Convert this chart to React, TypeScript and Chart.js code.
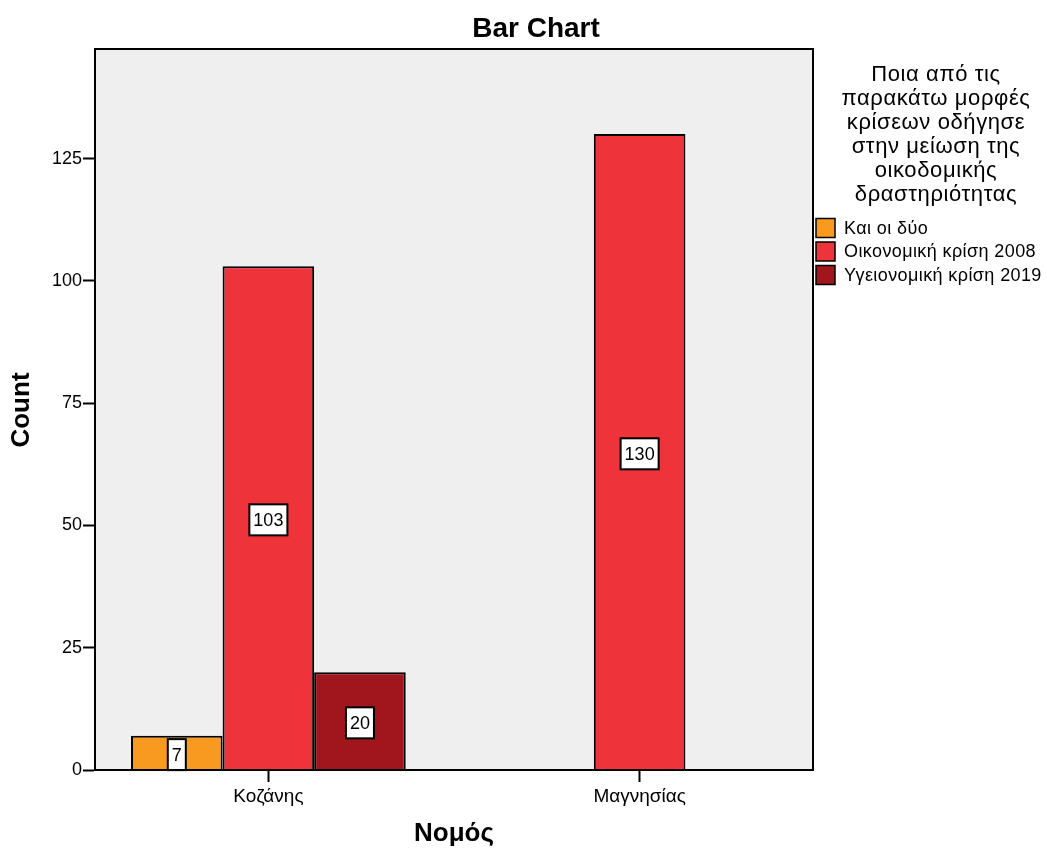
import React, { useEffect, useRef } from "react";
import { Chart, registerables } from "chart.js";

Chart.register(...registerables);

const categories = ["Κοζάνης", "Μαγνησίας"];
const seriesNames = ["Και οι δύο", "Οικονομική κρίση 2008", "Υγειονομική κρίση 2019"];
const bothValues: (number | null)[] = [7, null];
const crisis2008Values: (number | null)[] = [103, 130];
const health2019Values: (number | null)[] = [20, null];
const seriesColors = ["#F89A1F", "#EF333A", "#A1161C"];
const yTicks = [0, 25, 50, 75, 100, 125];
const legendTitle = ["Ποια από τις", "παρακάτω μορφές", "κρίσεων οδήγησε", "στην μείωση της", "οικοδομικής", "δραστηριότητας"];
const chartTitle = "Bar Chart";
const xTitle = "Νομός";
const yTitle = "Count";

const FONT = '"Liberation Sans", Arial, sans-serif';

export default function App() {
  const ref = useRef<HTMLCanvasElement | null>(null);

  useEffect(() => {
    if (!ref.current) return;
    const allSeries = [bothValues, crisis2008Values, health2019Values];

    const datasets = allSeries.map((vals, si) => ({
      label: seriesNames[si],
      data: categories.map((_, i) => ({ x: i, y: vals[i] })),
      backgroundColor: seriesColors[si],
      borderColor: "#000000",
      borderWidth: 2,
      barPercentage: 1,
      categoryPercentage: 0.74,
    }));

    const bgPlugin = {
      id: "bg",
      beforeDraw(chart: any) {
        const { ctx, chartArea: a } = chart;
        ctx.save();
        ctx.fillStyle = "#EFEFEF";
        ctx.fillRect(a.left, a.top, a.right - a.left, a.bottom - a.top);
        ctx.restore();
      },
      afterDraw(chart: any) {
        const { ctx, chartArea: a } = chart;
        ctx.save();
        // plot frame
        ctx.strokeStyle = "#000";
        ctx.lineWidth = 2;
        ctx.strokeRect(a.left, a.top, a.right - a.left, a.bottom - a.top);

        // title
        ctx.fillStyle = "#000";
        ctx.textAlign = "center";
        ctx.textBaseline = "middle";
        ctx.font = `bold 28px ${FONT}`;
        ctx.fillText(chartTitle, 536, 29);

        // axis titles
        ctx.font = `bold 26px ${FONT}`;
        ctx.fillText(xTitle, 454, 834);
        ctx.save();
        ctx.translate(22, 410);
        ctx.rotate(-Math.PI / 2);
        ctx.fillText(yTitle, 0, 0);
        ctx.restore();

        // legend title
        ctx.font = `22px ${FONT}`;
        (ctx as any).letterSpacing = "0.6px";
        legendTitle.forEach((line, i) => {
          ctx.fillText(line, 936, 75 + i * 24);
        });

        // legend items
        (ctx as any).letterSpacing = "0.4px";
        ctx.textAlign = "left";
        ctx.font = `18px ${FONT}`;
        seriesNames.forEach((name, i) => {
          const cy = 228 + i * 23.5;
          ctx.fillStyle = seriesColors[i];
          ctx.fillRect(816, cy - 9.5, 19, 19);
          ctx.strokeStyle = "#000";
          ctx.lineWidth = 1.5;
          ctx.strokeRect(816, cy - 9.5, 19, 19);
          ctx.fillStyle = "#000";
          ctx.fillText(name, 844, cy + 1);
        });
        (ctx as any).letterSpacing = "0px";
        ctx.restore();
      },
      afterDatasetsDraw(chart: any) {
        const { ctx } = chart;
        ctx.save();
        ctx.font = `18px ${FONT}`;
        ctx.textAlign = "center";
        ctx.textBaseline = "middle";
        chart.data.datasets.forEach((ds: any, di: number) => {
          const meta = chart.getDatasetMeta(di);
          meta.data.forEach((el: any, i: number) => {
            const v = ds.data[i].y;
            if (v === null || v === undefined) return;
            const cx = el.x;
            const cy = (el.y + el.base) / 2 + 2;
            const text = String(v);
            const tw = ctx.measureText(text).width;
            const w = tw + 8;
            const h = 31;
            ctx.fillStyle = "#FFFFFF";
            ctx.fillRect(cx - w / 2, cy - h / 2, w, h);
            ctx.strokeStyle = "#000";
            ctx.lineWidth = 2;
            ctx.strokeRect(cx - w / 2, cy - h / 2, w, h);
            ctx.fillStyle = "#000";
            ctx.fillText(text, cx, cy + 1);
          });
        });
        ctx.restore();
      },
    };

    const chart = new Chart(ref.current, {
      type: "bar",
      data: { datasets: datasets as any },
      options: {
        animation: false,
        responsive: false,
        maintainAspectRatio: false,
        layout: { padding: { top: 49, right: 234, left: 0, bottom: 0 } },
        plugins: {
          legend: { display: false },
          title: { display: false },
          tooltip: { enabled: false },
        },
        scales: {
          x: {
            type: "linear",
            min: -0.467,
            max: 1.467,
            offset: false,
            afterFit(scale: any) {
              scale.height = 82;
            },
            afterBuildTicks(scale: any) {
              scale.ticks = categories.map((_, i) => ({ value: i }));
            },
            grid: {
              display: true,
              offset: false,
              drawOnChartArea: false,
              drawTicks: true,
              tickLength: 12,
              tickColor: "#000",
              tickWidth: 2,
            },
            border: { display: true, color: "#000", width: 2 },
            ticks: {
              color: "#000",
              font: { size: 19, family: FONT },
              padding: 3,
              maxRotation: 0,
              autoSkip: false,
              callback: (v: any) => categories[Math.round(Number(v))] ?? "",
            },
          },
          y: {
            type: "linear",
            min: 0,
            max: 147.4,
            afterFit(scale: any) {
              scale.width = 95;
            },
            afterBuildTicks(scale: any) {
              scale.ticks = yTicks.map((v) => ({ value: v }));
            },
            grid: {
              display: true,
              drawOnChartArea: false,
              drawTicks: true,
              tickLength: 12,
              tickColor: "#000",
              tickWidth: 2,
            },
            border: { display: true, color: "#000", width: 2 },
            ticks: {
              color: "#000",
              font: { size: 18, family: FONT },
              padding: 1,
            },
          },
        },
      },
      plugins: [bgPlugin],
    });

    return () => chart.destroy();
  }, []);

  return (
    <div style={{ position: "fixed", left: 0, top: 0, width: 1047, height: 852, background: "#fff" }}>
      <canvas ref={ref} width={1047} height={852} style={{ width: 1047, height: 852 }} />
    </div>
  );
}
